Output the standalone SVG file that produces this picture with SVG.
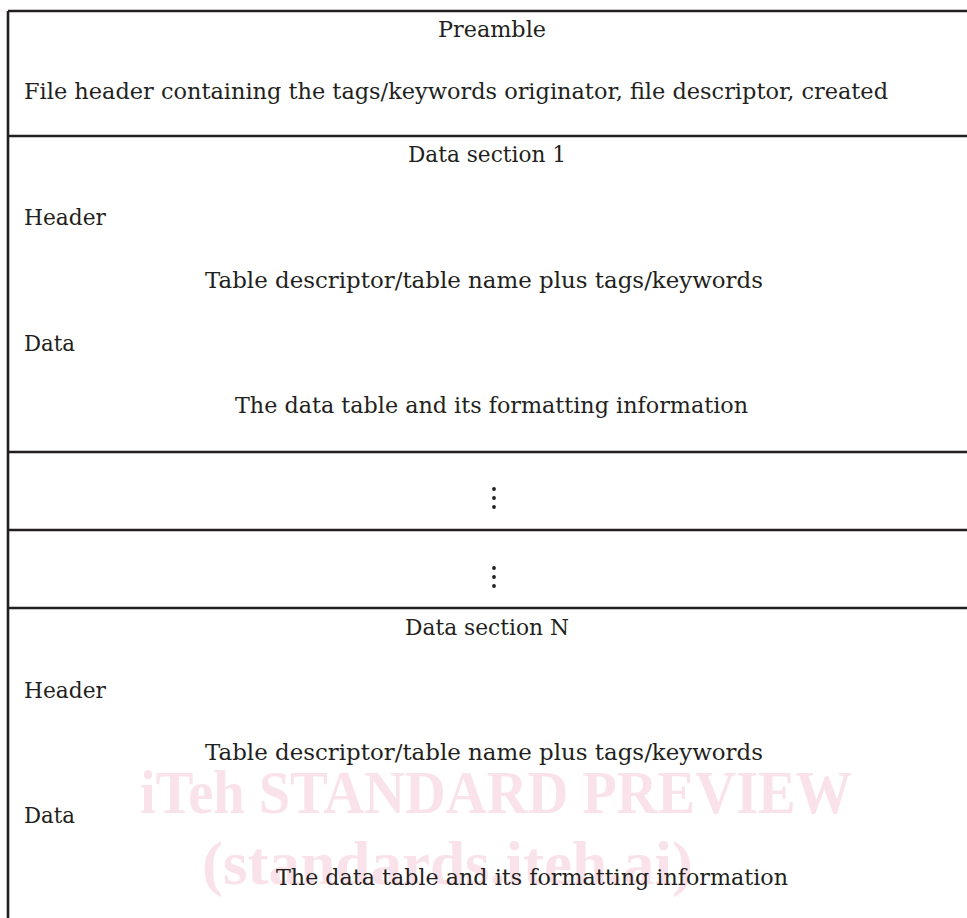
<svg xmlns="http://www.w3.org/2000/svg" width="967" height="918" viewBox="0 0 967 918">
<style>
.t{font-family:"DejaVu Serif","Liberation Serif",serif;font-size:22px;fill:#231f20}
.wm{font-family:"Liberation Serif","Times New Roman",serif;font-weight:bold;font-size:62px;fill:#f9e2e9}
.ln{stroke:#231f20;stroke-width:2.6;fill:none}
.dot{fill:#231f20}
</style>
<rect width="967" height="918" fill="#ffffff"/>
<g id="watermark">
<text class="wm" x="140" y="813" textLength="712" lengthAdjust="spacingAndGlyphs">iTeh STANDARD PREVIEW</text>
<text class="wm" x="202" y="884" textLength="491" lengthAdjust="spacingAndGlyphs">(standards.iteh.ai)</text>
</g>
<g id="connectors">
<path class="ln" d="M8 11H967M8 11V918M8 136H967M8 452H967M8 530H967M8 608H967"/>
</g>
<g id="preamble">
<text class="t" x="438" y="37" textLength="108" lengthAdjust="spacingAndGlyphs">Preamble</text>
<text class="t" x="24" y="99" textLength="864" lengthAdjust="spacingAndGlyphs">File header containing the tags/keywords originator, file descriptor, created</text>
</g>
<g id="data-section-1">
<text class="t" x="408" y="162" textLength="158" lengthAdjust="spacingAndGlyphs">Data section 1</text>
<text class="t" x="24" y="225" textLength="82" lengthAdjust="spacingAndGlyphs">Header</text>
<text class="t" x="205" y="288" textLength="558" lengthAdjust="spacingAndGlyphs">Table descriptor/table name plus tags/keywords</text>
<text class="t" x="24" y="351" textLength="51" lengthAdjust="spacingAndGlyphs">Data</text>
<text class="t" x="235" y="413" textLength="513" lengthAdjust="spacingAndGlyphs">The data table and its formatting information</text>
</g>
<g id="ellipsis-1">
<circle class="dot" cx="494" cy="489" r="1.9"/>
<circle class="dot" cx="494" cy="498" r="1.9"/>
<circle class="dot" cx="494" cy="507" r="1.9"/>
</g>
<g id="ellipsis-2">
<circle class="dot" cx="494" cy="568" r="1.9"/>
<circle class="dot" cx="494" cy="577" r="1.9"/>
<circle class="dot" cx="494" cy="586" r="1.9"/>
</g>
<g id="data-section-n">
<text class="t" x="405" y="635" textLength="164" lengthAdjust="spacingAndGlyphs">Data section N</text>
<text class="t" x="24" y="698" textLength="82" lengthAdjust="spacingAndGlyphs">Header</text>
<text class="t" x="205" y="760" textLength="558" lengthAdjust="spacingAndGlyphs">Table descriptor/table name plus tags/keywords</text>
<text class="t" x="24" y="823" textLength="51" lengthAdjust="spacingAndGlyphs">Data</text>
<text class="t" x="276" y="885" textLength="512" lengthAdjust="spacingAndGlyphs">The data table and its formatting information</text>
</g>
</svg>
